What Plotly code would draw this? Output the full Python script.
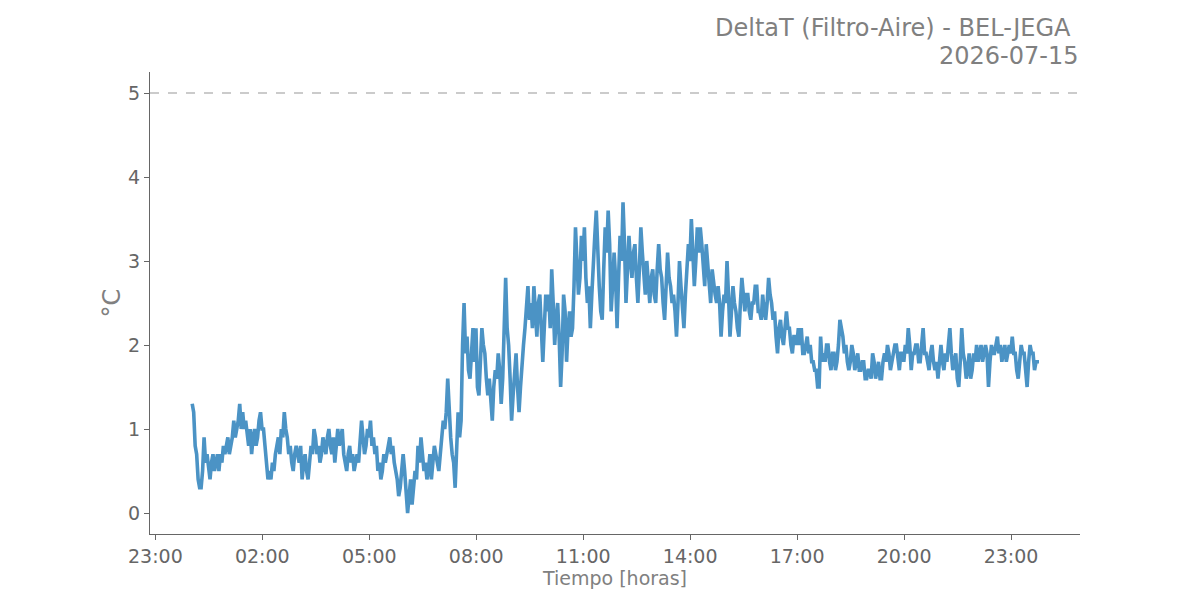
import pandas as pd
import plotly.graph_objects as go

# DeltaT readings every 2.5 minutes, starting 2026-07-15 00:02
start = "2026-07-15 00:02"
step = "150s"
delta_t = [
    # 00h
    1.3, 1.2, 0.8, 0.7, 0.4, 0.3, 0.3, 0.5, 0.9, 0.6, 0.7, 0.5, 0.4, 0.6, 0.7, 0.5, 0.6, 0.7, 0.5, 0.7, 0.6, 0.8, 0.7, 0.8,
    # 01h
    0.9, 0.7, 0.8, 0.9, 1.1, 0.9, 1.0, 1.1, 1.3, 1.0, 1.2, 1.0, 1.1, 0.9, 0.8, 1.0, 0.7, 0.9, 1.0, 0.8, 0.9, 1.1, 1.2, 1.0,
    # 02h
    1.0, 0.8, 0.6, 0.4, 0.5, 0.4, 0.6, 0.5, 0.7, 0.8, 0.9, 0.7, 1.0, 0.9, 1.2, 1.0, 0.9, 0.7, 0.8, 0.6, 0.5, 0.7, 0.8, 0.7,
    # 03h
    0.6, 0.8, 0.4, 0.6, 0.7, 0.5, 0.4, 0.6, 0.8, 0.7, 1.0, 0.9, 0.7, 0.8, 0.6, 0.7, 0.9, 0.8, 0.7, 0.9, 1.0, 0.8, 0.7, 0.9,
    # 04h
    0.6, 0.8, 1.0, 0.8, 0.9, 1.0, 0.7, 0.6, 0.5, 0.7, 0.8, 0.6, 0.7, 0.5, 0.6, 0.7, 0.6, 0.8, 1.1, 0.9, 0.7, 0.8, 1.0, 0.9,
    # 05h
    1.1, 0.8, 0.9, 0.7, 0.8, 0.5, 0.6, 0.4, 0.5, 0.7, 0.6, 0.7, 0.8, 0.9, 0.7, 0.8, 0.6, 0.5, 0.4, 0.2, 0.3, 0.5, 0.7, 0.5,
    # 06h
    0.3, 0.0, 0.2, 0.4, 0.1, 0.3, 0.5, 0.4, 0.8, 0.6, 0.9, 0.7, 0.5, 0.6, 0.4, 0.5, 0.7, 0.4, 0.6, 0.8, 0.7, 0.6, 0.5, 0.7,
    # 07h
    0.9, 1.1, 1.0, 1.2, 1.6, 1.2, 0.9, 0.7, 0.6, 0.3, 0.7, 1.2, 0.9, 1.1, 2.0, 2.5, 1.9, 2.1, 1.7, 1.6, 1.9, 2.2, 1.8, 2.2,
    # 08h
    1.5, 1.4, 1.8, 2.2, 2.0, 1.9, 1.6, 1.4, 1.6, 1.3, 1.1, 1.5, 1.7, 1.6, 1.9, 1.7, 1.3, 1.6, 2.4, 2.8, 2.2, 2.0, 1.6, 1.1,
    # 09h
    1.4, 1.6, 1.9, 1.5, 1.2, 1.5, 1.8, 2.0, 2.2, 2.4, 2.7, 2.3, 2.5, 2.2, 2.7, 2.4, 2.1, 2.5, 2.6, 2.2, 1.8, 2.2, 2.6, 2.4,
    # 10h
    2.6, 2.2, 2.9, 2.5, 2.0, 2.3, 2.5, 2.1, 1.5, 1.9, 2.6, 2.4, 1.8, 2.2, 2.4, 2.1, 2.2, 2.7, 3.4, 3.0, 2.6, 2.8, 3.3, 3.0,
    # 11h
    3.4, 2.8, 2.5, 2.7, 2.2, 2.6, 3.1, 3.3, 3.6, 3.0, 2.7, 2.4, 2.3, 2.9, 3.4, 3.1, 3.6, 3.2, 2.4, 2.7, 3.1, 2.8, 2.2, 2.8,
    # 12h
    3.3, 3.0, 3.7, 3.2, 2.5, 2.9, 3.3, 3.0, 2.8, 3.1, 3.2, 2.8, 2.5, 2.9, 3.4, 3.1, 2.8, 2.6, 3.0, 2.7, 2.5, 2.8, 2.9, 2.6,
    # 13h
    2.5, 2.9, 3.2, 2.9, 2.8, 2.5, 2.3, 2.7, 3.1, 2.8, 2.7, 2.5, 2.6, 2.4, 2.1, 2.5, 3.0, 2.7, 2.4, 2.2, 2.6, 2.9, 3.2, 3.0,
    # 14h
    3.5, 3.1, 2.7, 3.0, 3.4, 3.1, 3.4, 3.2, 2.9, 2.7, 3.2, 3.0, 2.7, 2.5, 2.9, 2.7, 2.6, 2.5, 2.7, 2.5, 2.1, 2.4, 2.6, 2.5,
    # 15h
    3.0, 2.6, 2.1, 2.4, 2.7, 2.5, 2.4, 2.2, 2.1, 2.5, 2.8, 2.6, 2.4, 2.6, 2.6, 2.4, 2.3, 2.5, 2.5, 2.7, 2.7, 2.4, 2.4, 2.3,
    # 16h
    2.6, 2.4, 2.3, 2.5, 2.8, 2.6, 2.5, 2.3, 2.4, 2.1, 1.9, 2.2, 2.3, 2.1, 2.0, 2.2, 2.4, 2.2, 2.2, 2.0, 1.9, 2.1, 2.1, 2.0,
    # 17h
    2.2, 2.0, 2.2, 1.9, 1.9, 2.0, 2.1, 1.9, 2.0, 1.8, 1.8, 1.7, 1.7, 1.5, 1.5, 2.1, 1.8, 1.9, 1.8, 2.0, 2.0, 1.8, 1.7, 1.9,
    # 18h
    1.9, 1.7, 1.8, 2.0, 2.3, 2.2, 2.1, 1.9, 2.0, 1.8, 1.7, 1.8, 2.0, 1.9, 1.7, 1.8, 1.9, 1.7, 1.7, 1.8, 1.8, 1.6, 1.6, 1.7,
    # 19h
    1.7, 1.6, 1.9, 1.8, 1.6, 1.7, 1.8, 1.6, 1.6, 1.8, 1.9, 1.8, 2.0, 1.9, 1.7, 1.8, 1.9, 2.0, 2.0, 1.8, 1.7, 1.9, 1.9, 1.8,
    # 20h
    2.0, 1.9, 2.2, 2.0, 1.7, 1.9, 1.9, 2.0, 2.0, 1.8, 1.8, 2.0, 2.2, 1.9, 1.9, 1.8, 1.7, 1.9, 2.0, 1.8, 1.7, 1.8, 1.6, 1.8,
    # 21h
    2.0, 1.8, 1.7, 1.9, 1.8, 2.0, 2.2, 1.9, 1.7, 1.8, 1.9, 1.6, 1.5, 1.8, 2.2, 1.9, 1.8, 1.6, 1.7, 1.9, 1.6, 1.7, 1.9, 1.8,
    # 22h
    2.0, 1.8, 1.9, 2.0, 1.8, 1.9, 2.0, 1.9, 1.5, 1.8, 2.0, 1.9, 1.9, 2.0, 2.1, 1.9, 2.0, 1.8, 1.9, 2.0, 1.8, 1.9, 2.0, 1.9,
    # 23h
    2.1, 1.9, 1.9, 1.7, 1.6, 1.8, 2.0, 1.9, 1.9, 1.7, 1.5, 1.8, 2.0, 1.9, 1.9, 1.7, 1.8, 1.8, 1.8,
]
times = pd.date_range(start, periods=len(delta_t), freq=step)

limit = 5
title_line1 = "DeltaT (Filtro-Aire) - BEL-JEGA"
title_line2 = "2026-07-15"
x_range = ["2026-07-14 22:51", "2026-07-16 00:56"]
y_range = [-0.25, 5.25]

grey = "#808080"
tick_grey = "#666666"

fig = go.Figure()
fig.add_trace(go.Scatter(
    x=times, y=delta_t, mode="lines",
    line=dict(color="#4b93c5", width=3.6),
    showlegend=False,
))
fig.add_hline(y=limit, line=dict(color="#bbbbbb", width=1.5, dash="dash"))

# page body adds 8px, so margins are shifted to keep the plot box in place
fig.update_layout(
    width=1200, height=600,
    plot_bgcolor="white", paper_bgcolor="white",
    margin=dict(l=142, r=128, t=64, b=74),
    font=dict(family="DejaVu Sans", color=tick_grey, size=19),
)
fig.add_annotation(text=title_line1, xref="paper", yref="paper", x=1, y=1.095,
                   xanchor="right", yanchor="middle", xshift=-7, showarrow=False,
                   font=dict(size=24, color=grey))
fig.add_annotation(text=title_line2, xref="paper", yref="paper", x=1, y=1.034,
                   xanchor="right", yanchor="middle", showarrow=False,
                   font=dict(size=24, color=grey))
fig.update_xaxes(
    range=x_range, type="date",
    tick0="2026-07-14 23:00", dtick=3 * 3600 * 1000, tickformat="%H:%M",
    showline=True, linecolor=tick_grey, linewidth=1.2,
    ticks="outside", ticklen=5, tickcolor=tick_grey,
    showgrid=False, zeroline=False,
    title=dict(text="Tiempo [horas]", font=dict(size=19, color=grey), standoff=5),
)
fig.update_yaxes(
    range=y_range, tickvals=[0, 1, 2, 3, 4, 5],
    showline=True, linecolor=tick_grey, linewidth=1.2,
    ticks="outside", ticklen=5, tickcolor=tick_grey,
    showgrid=False, zeroline=False,
    title=dict(text="°C", font=dict(size=24, color=grey), standoff=0),
)

fig.write_html("out.html")
